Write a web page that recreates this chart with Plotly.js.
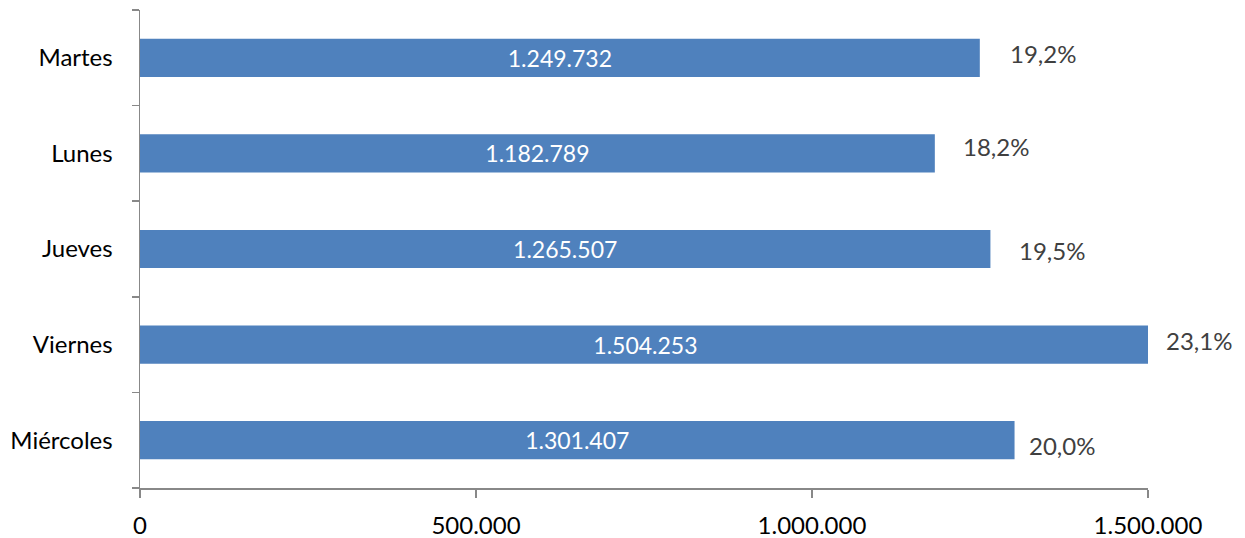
<!DOCTYPE html>
<html>
<head>
<meta charset="utf-8">
<script src="https://cdn.plot.ly/plotly-3.0.1.min.js"></script>
<style>html,body{margin:0;padding:0;background:#fff;}#chart{width:1245px;height:538px;}</style>
</head>
<body>
<div id="chart"></div>
<script>
// Data (bottom to top)
const days = ['Miércoles', 'Viernes', 'Jueves', 'Lunes', 'Martes'];
const visits = [1301407, 1504253, 1265507, 1182789, 1249732];
const shareLabels = ['20,0%', '23,1%', '19,5%', '18,2%', '19,2%'];
const xMax = 1500000;
const xTickVals = [0, 500000, 1000000, 1500000];
const xTickText = ['0', '500.000', '1.000.000', '1.500.000'];

// Label placement offsets (px), styling only
const labelShiftX = [12, 16, 27, 26, 28];
const labelShiftY = [-5, 4, -1, 7, 4];

const FONT = 'Lato, "Open Sans", sans-serif';
const FS = 24;

const trace = {
  type: 'bar',
  orientation: 'h',
  y: days,
  x: visits,
  width: 0.4,
  marker: {color: '#4F81BD', line: {width: 0}},
  texttemplate: '%{x:,d}',
  textposition: 'inside',
  insidetextanchor: 'middle',
  textangle: 0,
  insidetextfont: {family: FONT, size: 23, color: '#ffffff'},
  hoverinfo: 'skip'
};

// annotations anchored at the bar end (kept inside the axis range so they are drawn)
const annotations = days.map((d, i) => ({
  x: Math.min(visits[i], xMax), y: d, xref: 'x', yref: 'y',
  text: shareLabels[i], showarrow: false,
  xanchor: 'left', yanchor: 'middle',
  xshift: labelShiftX[i], yshift: labelShiftY[i],
  font: {family: FONT, size: FS, color: '#404040'}
}));

const layout = {
  width: 1245, height: 538,
  margin: {l: 140, r: 97, t: 10, b: 50, pad: 0},
  separators: ',.',
  paper_bgcolor: '#ffffff', plot_bgcolor: '#ffffff',
  showlegend: false,
  font: {family: FONT, size: FS, color: '#000000'},
  xaxis: {
    range: [0, xMax],
    tickvals: xTickVals, ticktext: xTickText,
    showgrid: false, zeroline: false,
    showline: true, linecolor: '#888888', linewidth: 1.5,
    ticks: 'outside', ticklen: 8, tickwidth: 1.5, tickcolor: '#888888',
    ticklabelstandoff: 8,
    tickfont: {family: FONT, size: FS, color: '#000000'},
    fixedrange: true
  },
  yaxis: {
    type: 'category',
    showgrid: false, zeroline: false,
    showline: true, linecolor: '#888888', linewidth: 1.5,
    ticks: 'outside', ticklen: 7, tickwidth: 1.5, tickcolor: '#888888',
    tickson: 'boundaries',
    ticklabelstandoff: 21,
    tickfont: {family: FONT, size: FS, color: '#000000'},
    fixedrange: true
  },
  annotations: annotations
};

Plotly.newPlot('chart', [trace], layout, {displayModeBar: false, staticPlot: true});
</script>
</body>
</html>
